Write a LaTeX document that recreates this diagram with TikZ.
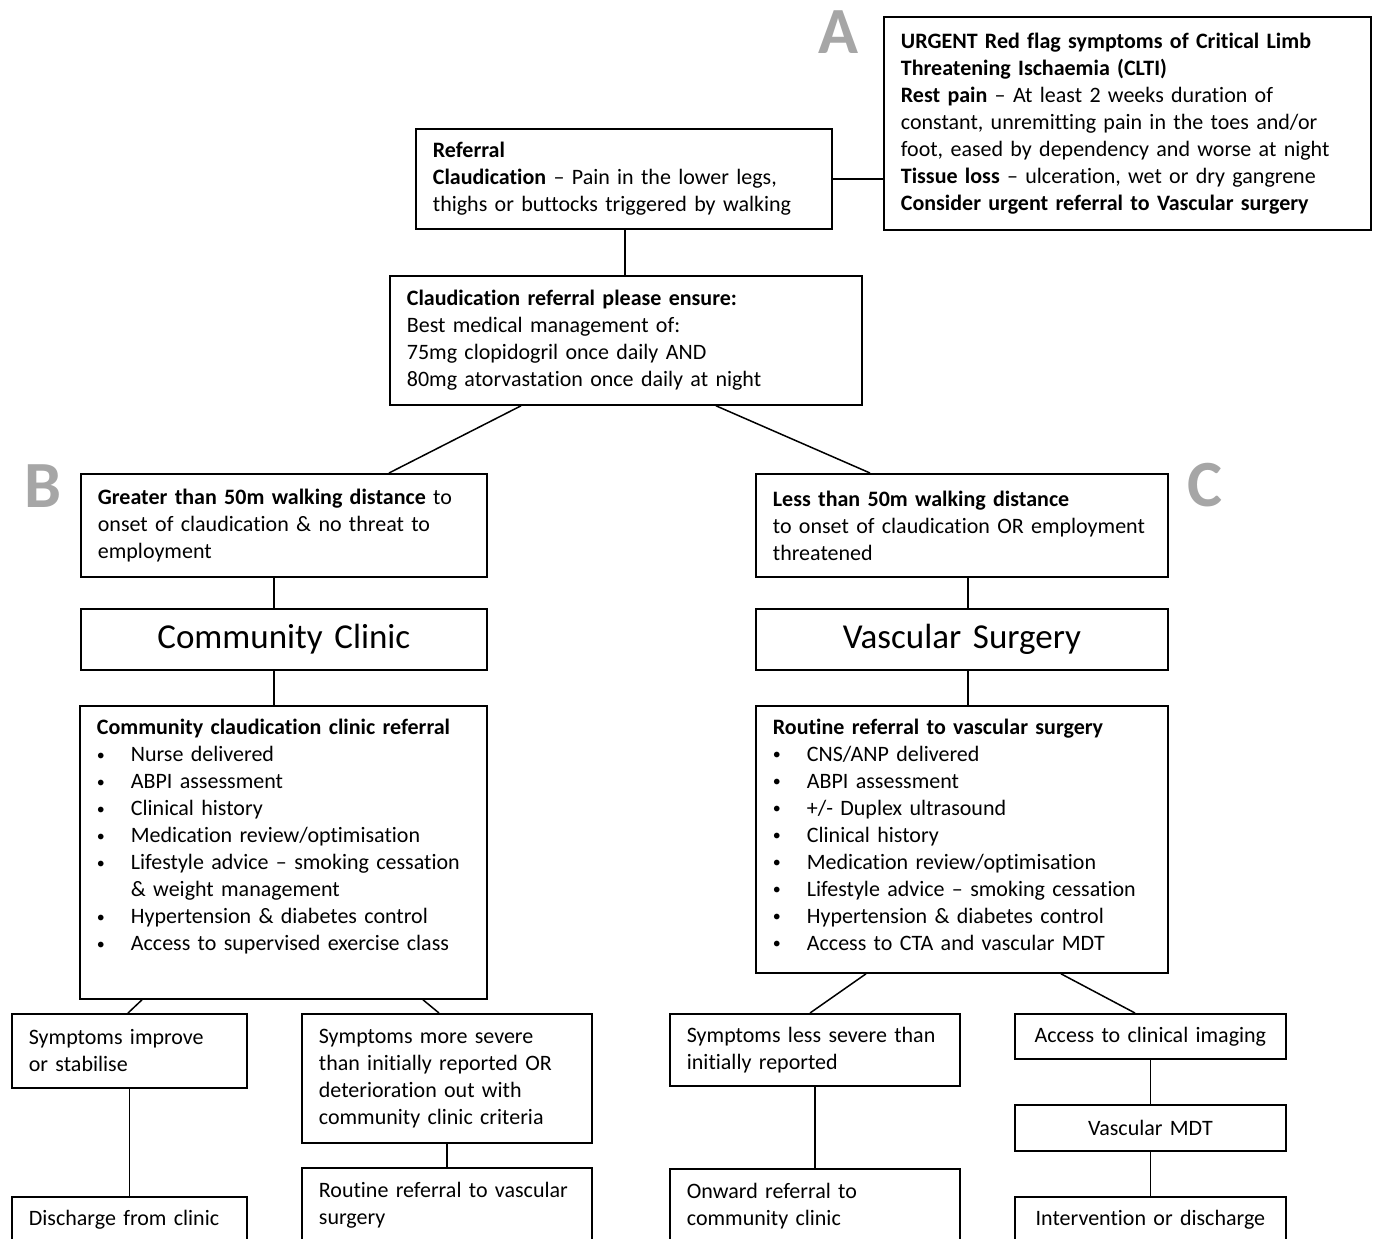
\documentclass[tikz,border=0pt]{standalone}
\usepackage{fontspec}
\setmainfont{Carlito}[Ligatures=NoCommon]
\usetikzlibrary{calc}
\definecolor{taggrey}{RGB}{166,166,166}
\newcommand{\listdot}{\makebox[17pt][l]{\raisebox{0.6pt}{\fontsize{8}{8}\selectfont\textbullet}}}
\tikzset{
  flowbox/.style={draw, line width=0.9pt, anchor=north west, align=left,
    inner xsep=8.5pt, inner ysep=0pt, font=\fontsize{11}{13.5}\selectfont},
  headbox/.style={flowbox, align=center, font=\fontsize{17.5}{20}\selectfont},
  midbox/.style={flowbox, align=center},
  tagletter/.style={text=taggrey, inner sep=0pt, font=\fontsize{33}{33}\selectfont\bfseries},
  link/.style={line width=0.75pt}
}

\begin{document}
\begin{tikzpicture}[x=0.5pt, y=-0.5pt]
\useasboundingbox (0,0) rectangle (1381,1238);
\clip (0,0) rectangle (1381,1238);

% top: referral and red flag box
\node[tagletter] (tagA) at (838,32) {A};
\node[flowbox, text width=226.5pt, minimum height=106.5pt] (urgent) at (883,16)
  {\textbf{URGENT Red flag symptoms of Critical Limb}\\
   \textbf{Threatening Ischaemia (CLTI)}\\
   \textbf{Rest pain} – At least 2 weeks duration of\\
   constant, unremitting pain in the toes and/or\\
   foot, eased by dependency and worse at night\\
   \textbf{Tissue loss} – ulceration, wet or dry gangrene\\
   \textbf{Consider urgent referral to Vascular surgery}};

\node[flowbox, text width=191pt, minimum height=50pt] (ref) at (415,128)
  {\textbf{Referral}\\
   \textbf{Claudication} – Pain in the lower legs,\\
   thighs or buttocks triggered by walking};

\node[flowbox, text width=219pt, minimum height=64.5pt] (claud) at (389,275)
  {\textbf{Claudication referral please ensure:}\\
   Best medical management of:\\
   75mg clopidogril once daily AND\\
   80mg atorvastation once daily at night};

% branch B
\node[tagletter] (tagB) at (43,486) {B};
\node[flowbox, text width=186pt, minimum height=51.5pt] (gtr) at (80,473)
  {\textbf{Greater than 50m walking distance} to\\
   onset of claudication \& no threat to\\
   employment};

\node[headbox, text width=186pt, minimum height=30.5pt] (cc) at (80,608) {Community Clinic};

\node[flowbox, text width=186.5pt, minimum height=146.5pt] (ccref) at (79,705)
  {\textbf{Community claudication clinic referral}\\
   \listdot Nurse delivered\\
   \listdot ABPI assessment\\
   \listdot Clinical history\\
   \listdot Medication review/optimisation\\
   \listdot Lifestyle advice – smoking cessation\\
   \hspace*{17pt}\& weight management\\
   \listdot Hypertension \& diabetes control\\
   \listdot Access to supervised exercise class\rule[-17.5pt]{0pt}{0pt}};

\node[flowbox, text width=100.5pt, minimum height=37pt] (improve) at (11,1013)
  {Symptoms improve\\ or stabilise};
\node[flowbox, text width=128pt, minimum height=64.5pt] (severe) at (301,1013)
  {Symptoms more severe\\
   than initially reported OR\\
   deterioration out with\\
   community clinic criteria};
\node[flowbox, text width=100.5pt, minimum height=23pt] (discharge) at (11,1196)
  {Discharge from clinic};
\node[flowbox, text width=128pt, minimum height=37pt] (routine) at (301,1167)
  {Routine referral to vascular\\ surgery};

% branch C
\node[tagletter] (tagC) at (1205,485) {C};
\node[flowbox, text width=189pt, minimum height=51.5pt] (lss) at (755,473)
  {\textbf{Less than 50m walking distance}\\
   to onset of claudication OR employment\\
   threatened};

\node[headbox, text width=189pt, minimum height=30.5pt] (vs) at (755,608) {Vascular Surgery};

\node[flowbox, text width=189pt, minimum height=133.5pt] (vsref) at (755,705)
  {\textbf{Routine referral to vascular surgery}\\
   \listdot CNS/ANP delivered\\
   \listdot ABPI assessment\\
   \listdot +/- Duplex ultrasound\\
   \listdot Clinical history\\
   \listdot Medication review/optimisation\\
   \listdot Lifestyle advice – smoking cessation\\
   \listdot Hypertension \& diabetes control\\
   \listdot Access to CTA and vascular MDT\rule[-5pt]{0pt}{0pt}};

\node[flowbox, text width=128pt, minimum height=36pt] (lessev) at (669,1013)
  {Symptoms less severe than\\ initially reported};
\node[flowbox, text width=128pt, minimum height=37pt] (onward) at (669,1168)
  {Onward referral to\\ community clinic};
\node[midbox, text width=118.5pt, minimum height=22.5pt] (access) at (1014,1013)
  {Access to clinical imaging};
\node[midbox, text width=118.5pt, minimum height=23pt] (mdt) at (1014,1104)
  {Vascular MDT};
\node[midbox, text width=118.5pt, minimum height=23pt] (interv) at (1014,1196)
  {Intervention or discharge};

% connectors
\draw[link] (ref.east) -- (ref.east -| urgent.west);
\draw[link] ($(ref.south west)+(210,0)$) -- ($(claud.north west)+(236,0)$);
\draw[link] ($(claud.south west)+(132,0)$) -- ($(gtr.north west)+(309,0)$);
\draw[link] ($(claud.south west)+(327,0)$) -- ($(lss.north west)+(115,0)$);

\draw[link] ($(gtr.south west)+(194,0)$) -- ($(cc.north west)+(194,0)$);
\draw[link] ($(cc.south west)+(194,0)$) -- ($(ccref.north west)+(195,0)$);
\draw[link] ($(ccref.south west)+(63,0)$) -- ($(improve.north west)+(117,0)$);
\draw[link] ($(ccref.south west)+(344,0)$) -- ($(severe.north west)+(138,0)$);
\draw[link] (improve.south) -- (discharge.north);
\draw[link] (severe.south) -- (routine.north);

\draw[link] ($(lss.south west)+(213,0)$) -- ($(vs.north west)+(213,0)$);
\draw[link] ($(vs.south west)+(213,0)$) -- ($(vsref.north west)+(213,0)$);
\draw[link] ($(vsref.south west)+(111,0)$) -- ($(lessev.north west)+(141,0)$);
\draw[link] ($(vsref.south west)+(306,0)$) -- ($(access.north west)+(121,0)$);
\draw[link] (lessev.south) -- (onward.north);
\draw[link] (access.south) -- (mdt.north);
\draw[link] (mdt.south) -- (interv.north);
\end{tikzpicture}
\end{document}
